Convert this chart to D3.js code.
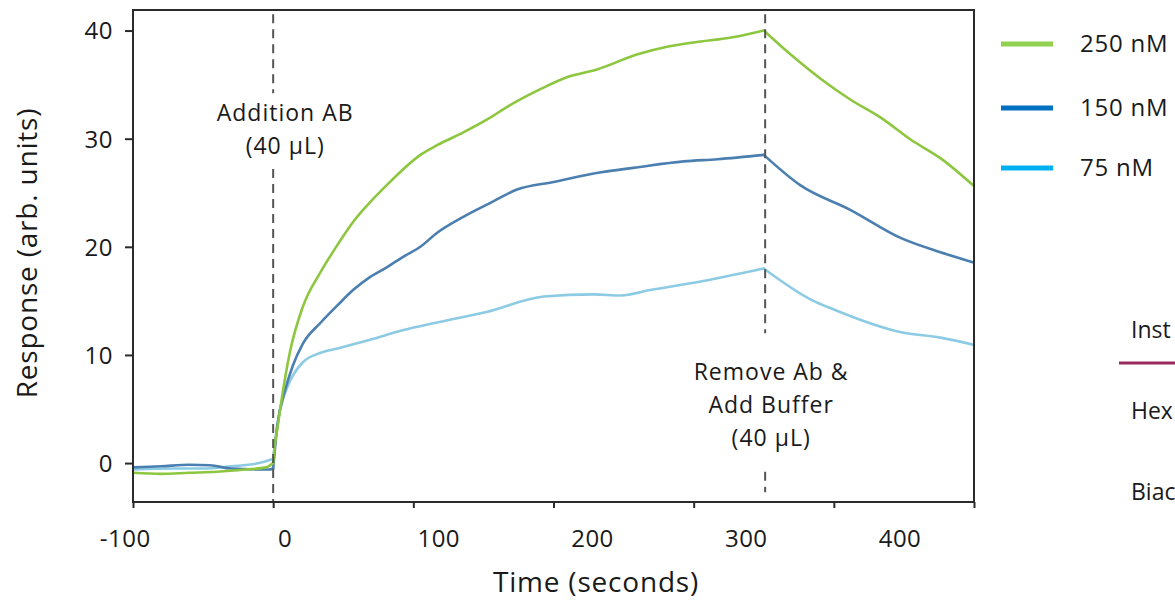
<!DOCTYPE html>
<html lang="en">
<head>
    <meta charset="UTF-8">
    <title>Binding response</title>
    <script src="https://d3js.org/d3.v7.min.js"></script>
    <style>
        body { margin: 0; background: #fff; overflow: hidden; }
        svg text { font-family: "Open Sans", Lato, sans-serif; fill: #1a1a1a; }
    </style>
</head>
<body>
    <div id="chart"></div>
    <script>
        // time (s) and response values
        const t250 = [-100, -80, -60, -40, -20, -5, 0, 1, 3, 5, 12, 21, 34, 46, 57, 69, 81, 93, 105, 117, 136, 153, 169, 191, 210, 231, 260, 281, 300, 329, 350, 369, 391, 412, 434, 455, 476, 501];
        const r250 = [-0.9, -1.0, -0.9, -0.8, -0.6, -0.4, 0.0, 1.5, 3.2, 5.0, 10.3, 14.4, 17.7, 20.2, 22.3, 24.1, 25.7, 27.2, 28.5, 29.4, 30.6, 31.8, 33.1, 34.6, 35.7, 36.4, 37.8, 38.5, 38.9, 39.4, 40.0, 37.8, 35.5, 33.6, 31.9, 29.9, 28.2, 25.5];

        const t150 = [-100, -80, -60, -45, -30, -3, 0, 3, 8, 14, 21, 34, 46, 57, 69, 81, 93, 105, 117, 136, 157, 174, 200, 234, 257, 293, 317, 350, 376, 412, 448, 476, 501];
        const r150 = [-0.4, -0.3, -0.15, -0.2, -0.5, -0.6, -0.5, 3.5, 6.5, 9.0, 11.0, 13.0, 14.6, 16.0, 17.2, 18.1, 19.1, 20.0, 21.3, 22.8, 24.2, 25.3, 26.0, 26.9, 27.3, 27.9, 28.1, 28.5, 25.7, 23.4, 20.8, 19.5, 18.5];

        const t75 = [-100, -70, -50, -30, -10, -2, 0, 3, 5, 10, 21, 34, 46, 69, 93, 117, 153, 193, 229, 248, 269, 305, 350, 384, 400, 448, 476, 501];
        const r75 = [-0.6, -0.5, -0.5, -0.3, 0.0, 0.3, 0.4, 3.5, 5.0, 7.0, 9.3, 10.2, 10.6, 11.4, 12.3, 13.0, 14.0, 15.4, 15.6, 15.5, 16.0, 16.8, 18.0, 15.1, 14.2, 12.1, 11.6, 10.9];

        const seriesNames = ["250 nM", "150 nM", "75 nM"];
        const lineColors = ["#8dc63f", "#4a7fb0", "#8ccbe3"];
        const legendColors = ["#92d050", "#0070c0", "#00b0f0"];

        const xTicks = [-100, 0, 100, 200, 300, 400, 500];
        const xLabels = [-100, 0, 100, 200, 300, 400];
        const yTicks = [0, 10, 20, 30, 40];
        const events = [0, 351];

        const width = 1175, height = 601;
        const svg = d3.select("#chart").append("svg")
            .attr("width", width)
            .attr("height", height);

        // scales
        const x = d3.scaleLinear().domain([-100, 500]).range([133, 974]);
        const xLab = d3.scaleLinear().domain([0, 400]).range([285, 900]); // labels drift away from the ticks in the original
        const y = d3.scaleLinear().domain([-3.6, 41.9]).range([502, 10]);

        const series = [
            { name: seriesNames[0], data: t250.map((t, i) => [t, r250[i]]) },
            { name: seriesNames[1], data: t150.map((t, i) => [t, r150[i]]) },
            { name: seriesNames[2], data: t75.map((t, i) => [t, r75[i]]) }
        ];

        // split each trace into baseline / association / dissociation so the corners stay sharp
        const pieces = [];
        series.slice().reverse().forEach(s => {
            const color = lineColors[seriesNames.indexOf(s.name)];
            pieces.push({ color, data: s.data.filter(d => d[0] <= 0) });
            pieces.push({ color, data: s.data.filter(d => d[0] >= 0 && d[0] <= 350) });
            pieces.push({ color, data: s.data.filter(d => d[0] >= 350) });
        });

        // clip to the plot frame
        svg.append("clipPath").attr("id", "plot")
            .append("rect")
            .attr("x", x(-100)).attr("y", y(41.9))
            .attr("width", x(500) - x(-100)).attr("height", y(-3.6) - y(41.9));

        const line = d3.line()
            .x(d => x(d[0]))
            .y(d => y(d[1]))
            .curve(d3.curveMonotoneX);

        svg.append("g").attr("clip-path", "url(#plot)")
            .selectAll("path")
            .data(pieces)
            .enter()
            .append("path")
            .attr("d", d => line(d.data))
            .style("fill", "none")
            .style("stroke", d => d.color)
            .style("stroke-width", 2.6)
            .style("stroke-linecap", "round")
            .style("stroke-linejoin", "round");

        // dashed event lines, with gaps for the labels
        const dashSegs = [
            [events[0], 41.5, 34.2], [events[0], 27.2, -3.6],
            [events[1], 41.5, 12.0], [events[1], -0.8, -2.7]
        ];
        svg.selectAll(".evt")
            .data(dashSegs)
            .enter()
            .append("line")
            .attr("class", "evt")
            .attr("x1", d => x(d[0])).attr("x2", d => x(d[0]))
            .attr("y1", d => y(d[1])).attr("y2", d => y(d[2]))
            .style("stroke", "#555")
            .style("stroke-width", 2)
            .style("stroke-dasharray", "9,6");

        // frame
        svg.append("rect")
            .attr("x", x(-100)).attr("y", y(41.9))
            .attr("width", x(500) - x(-100)).attr("height", y(-3.6) - y(41.9))
            .style("fill", "none")
            .style("stroke", "#2b2b2b")
            .style("stroke-width", 2);

        // Y axis
        const yAxis = svg.append("g")
            .attr("transform", "translate(" + x(-100) + ",0)")
            .call(d3.axisLeft(y).tickValues(yTicks).tickSize(8).tickPadding(12));
        yAxis.select(".domain").remove();
        yAxis.selectAll("line").style("stroke", "#2b2b2b").style("stroke-width", 2);
        yAxis.selectAll("text")
            .style("font-size", "24px")
            .style("font-family", "'Open Sans', sans-serif")
            .style("letter-spacing", "0.5px")
            .attr("dy", "0.35em");

        // X axis: ticks from the scale, labels placed where the original has them
        const xAxis = svg.append("g")
            .attr("transform", "translate(0," + y(-3.6) + ")")
            .call(d3.axisBottom(x).tickValues(xTicks).tickSize(6).tickFormat(""));
        xAxis.select(".domain").remove();
        xAxis.selectAll("line").style("stroke", "#2b2b2b").style("stroke-width", 2);

        svg.selectAll(".xlab")
            .data(xLabels)
            .enter()
            .append("text")
            .attr("class", "xlab")
            .attr("x", d => xLab(d) - (d < 0 ? 6 : 0))
            .attr("y", 547)
            .attr("text-anchor", "middle")
            .style("font-size", "24px")
            .style("letter-spacing", "0.5px")
            .text(d => d);

        // axis titles
        svg.append("text")
            .attr("x", 596).attr("y", 592)
            .attr("text-anchor", "middle")
            .style("font-size", "28px")
            .style("letter-spacing", "0.8px")
            .text("Time (seconds)");

        svg.append("text")
            .attr("transform", "translate(37,253) rotate(-90)")
            .attr("text-anchor", "middle")
            .style("font-size", "28px")
            .style("letter-spacing", "0.8px")
            .text("Response (arb. units)");

        // event annotations
        const note1 = ["Addition AB", "(40 µL)"];
        svg.selectAll(".n1")
            .data(note1)
            .enter()
            .append("text")
            .attr("x", x(events[0]) + 12)
            .attr("y", (d, i) => 121 + i * 33)
            .attr("text-anchor", "middle")
            .style("font-size", "23px")
            .style("letter-spacing", "1px")
            .text(d => d);

        const note2 = ["Remove Ab &", "Add Buffer", "(40 µL)"];
        svg.selectAll(".n2")
            .data(note2)
            .enter()
            .append("text")
            .attr("x", x(events[1]) + 6)
            .attr("y", (d, i) => 380 + i * 33)
            .attr("text-anchor", "middle")
            .style("font-size", "23px")
            .style("letter-spacing", "1px")
            .text(d => d);

        // legend
        const legend = svg.selectAll(".leg")
            .data(seriesNames)
            .enter()
            .append("g")
            .attr("transform", (d, i) => "translate(1001," + [44, 108, 168][i] + ")");
        legend.append("line")
            .attr("x1", 0).attr("x2", 52)
            .style("stroke", (d, i) => legendColors[i])
            .style("stroke-width", 5);
        legend.append("text")
            .attr("x", 79).attr("y", 0)
            .attr("dy", "0.35em")
            .style("font-size", "24px")
            .style("letter-spacing", "0.8px")
            .text(d => d);

        // side table, only its left edge shows in the picture
        const sideRows = ["Inst", "Hex", "Biac"];
        svg.selectAll(".side")
            .data(sideRows)
            .enter()
            .append("text")
            .attr("x", 1131)
            .attr("y", (d, i) => [338, 419, 500][i])
            .style("font-size", "23px")
            .text(d => d);
        svg.append("line")
            .attr("x1", 1119).attr("x2", 1175)
            .attr("y1", 363).attr("y2", 363)
            .style("stroke", "#9b2a5c")
            .style("stroke-width", 3);
    </script>
</body>
</html>
